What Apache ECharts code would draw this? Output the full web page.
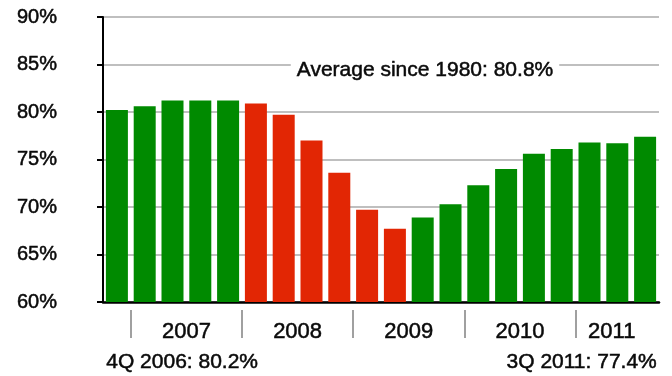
<!DOCTYPE html>
<html>
<head>
<meta charset="utf-8">
<script src="https://cdn.jsdelivr.net/npm/echarts@6/dist/echarts.min.js"></script>
<style>
  html, body { margin: 0; padding: 0; background: #ffffff; }
  #chart { width: 672px; height: 376px; }
</style>
</head>
<body>
<div id="chart"></div>
<script>
// ---- data ----
const quarters = [
  '4Q 2006',
  '1Q 2007', '2Q 2007', '3Q 2007', '4Q 2007',
  '1Q 2008', '2Q 2008', '3Q 2008', '4Q 2008',
  '1Q 2009', '2Q 2009', '3Q 2009', '4Q 2009',
  '1Q 2010', '2Q 2010', '3Q 2010', '4Q 2010',
  '1Q 2011', '2Q 2011', '3Q 2011'
];
const utilization = [
  80.2,
  80.6, 81.2, 81.2, 81.2,
  80.9, 79.7, 77.0, 73.6,
  69.7, 67.7, 68.9, 70.3,
  72.3, 74.0, 75.6, 76.1,
  76.8, 76.7, 77.4
];
const recession = [
  0,
  0, 0, 0, 0,
  1, 1, 1, 1,
  1, 1, 0, 0,
  0, 0, 0, 0,
  0, 0, 0
];
const yearLabels = ['2007', '2008', '2009', '2010', '2011'];
const yearLabelPositions = [3, 7, 11, 15, 18.3];   // in quarter units along the axis
const yearBreaks = [1, 5, 9, 13, 17];             // boundaries between years
const yMin = 60, yMax = 90, yStep = 5;
const averageSince1980 = 80.8;

// ---- chart ----
const FONT = '"Liberation Sans", Arial, sans-serif';
const GREEN = '#008a00';
const RED = '#e22604';
const INK = '#0a0a0a';
const HEAVY = { textBorderColor: INK, textBorderWidth: 0.5 };

const chart = echarts.init(document.getElementById('chart'), null, { renderer: 'canvas' });

const barData = utilization.map((v, i) => ({
  value: v,
  itemStyle: { color: recession[i] ? RED : GREEN }
}));

const first = quarters[0] + ': ' + utilization[0].toFixed(1) + '%';
const last = quarters[quarters.length - 1] + ': ' + utilization[utilization.length - 1].toFixed(1) + '%';

chart.setOption({
  animation: false,
  backgroundColor: '#ffffff',
  grid: { left: 103, right: 13, top: 17, bottom: 74, containLabel: false },
  xAxis: [
    {
      type: 'category',
      data: quarters,
      position: 'bottom',
      axisLine: { show: true, lineStyle: { color: '#000000', width: 2.5 } },
      axisTick: { show: false },
      axisLabel: { show: false },
      splitLine: { show: false }
    },
    {
      type: 'value',
      min: 0,
      max: quarters.length,
      position: 'bottom',
      offset: 8,
      axisLine: { show: false },
      splitLine: { show: false },
      axisTick: {
        show: true,
        customValues: yearBreaks,
        length: 28,
        lineStyle: { color: '#a0a0a0', width: 2 }
      },
      axisLabel: Object.assign({
        show: true,
        customValues: yearLabelPositions,
        margin: 11,
        formatter: function (v) {
          const idx = yearLabelPositions.indexOf(v);
          return idx >= 0 ? yearLabels[idx] : '';
        },
        fontFamily: FONT,
        fontSize: 22,
        color: INK
      }, HEAVY)
    }
  ],
  yAxis: {
    type: 'value',
    min: yMin,
    max: yMax,
    interval: yStep,
    axisLine: { show: true, lineStyle: { color: '#000000', width: 2 } },
    axisTick: { show: true, length: 6, lineStyle: { color: '#000000', width: 2 } },
    axisLabel: Object.assign({
      formatter: '{value}%',
      margin: 46,
      fontFamily: FONT,
      fontSize: 20,
      color: INK,
      padding: [5, 0, 0, 0]
    }, HEAVY),
    splitLine: { show: true, lineStyle: { color: '#aaaaaa', width: 1.5 } }
  },
  series: [
    {
      type: 'bar',
      xAxisIndex: 0,
      data: barData,
      barWidth: 22
    }
  ],
  graphic: [
    {
      type: 'text',
      x: 425,
      y: 70,
      style: Object.assign({
        text: 'Average since 1980: ' + averageSince1980.toFixed(1) + '%',
        font: '21px ' + FONT,
        fill: INK,
        stroke: INK,
        lineWidth: 0.5,
        align: 'center',
        verticalAlign: 'middle',
        backgroundColor: '#ffffff',
        padding: [2, 6, 2, 6]
      }),
      z: 100
    },
    {
      type: 'text',
      left: 106,
      top: 351,
      style: {
        text: first,
        font: '21px ' + FONT,
        fill: INK,
        stroke: INK,
        lineWidth: 0.5
      }
    },
    {
      type: 'text',
      right: 15,
      top: 351,
      style: {
        text: last,
        font: '21px ' + FONT,
        fill: INK,
        stroke: INK,
        lineWidth: 0.5
      }
    }
  ]
});
</script>
</body>
</html>
